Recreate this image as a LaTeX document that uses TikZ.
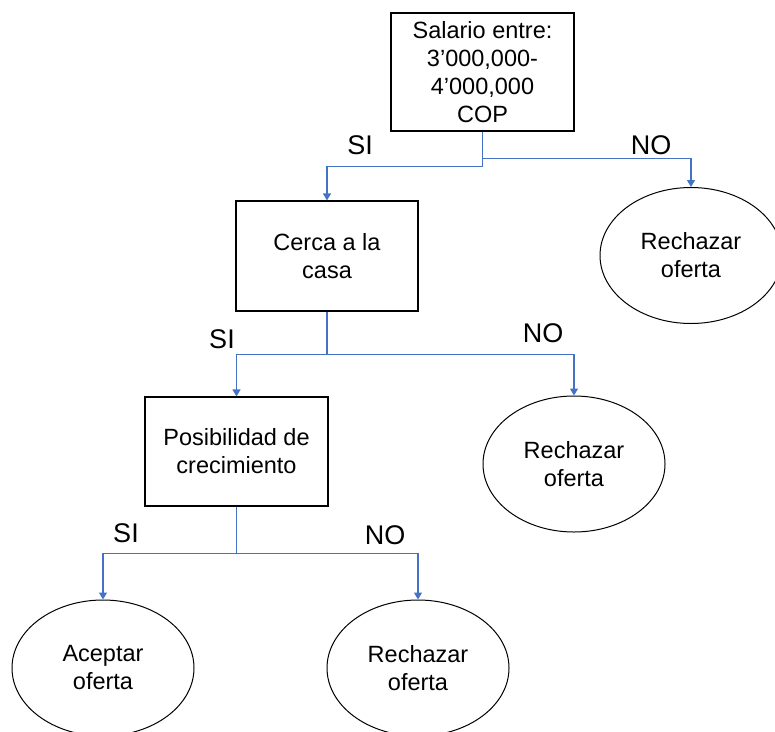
\documentclass[tikz,border=0pt]{standalone}
\usepackage{fontspec}
\setmainfont{Liberation Sans}
\usetikzlibrary{arrows.meta,calc,shapes.geometric}
\definecolor{linkblue}{HTML}{4472C4}
\begin{document}
\begin{tikzpicture}[x=1pt,y=-1pt,
  decision/.style={draw=black,line width=1.2pt,rectangle,inner sep=0pt,align=center,
    font=\fontsize{23.5}{28}\selectfont},
  outcome/.style={draw=black,line width=1pt,ellipse,inner sep=0pt,align=center,
    minimum width=182pt,minimum height=136pt,font=\fontsize{23.5}{28}\selectfont},
  link/.style={draw=linkblue,line width=1.3pt,-{Triangle[width=8pt,length=7pt]}},
  answer/.style={font=\fontsize{27}{30}\selectfont,inner sep=0pt}]
\useasboundingbox (0,0) rectangle (775,731);
\clip (0,0) rectangle (775,731);

% decision boxes
\node[decision,minimum width=183pt,minimum height=118pt] (salario) at (482.5,72)
  {Salario entre:\\3’000,000-\\4’000,000\\COP};
\node[decision,minimum width=182pt,minimum height=110pt] (cerca) at (327,256)
  {Cerca a la\\casa};
\node[decision,minimum width=183pt,minimum height=109pt] (crec) at (236.5,451.5)
  {Posibilidad de\\crecimiento};

% outcomes
\node[outcome] (rech1) at (691,255.5) {Rechazar\\oferta};
\node[outcome] (rech2) at (574,464) {Rechazar\\oferta};
\node[outcome] (acep) at (103,668) {Aceptar\\oferta};
\node[outcome] (rech3) at (418,668) {Rechazar\\oferta};

% branches
\draw[link] (salario.south) -- ++(0,35) -| (cerca.north);
\draw[link] ($(salario.south)+(0,27)$) -| (rech1.north);
\draw[link] (cerca.south) -- ++(0,43) -| (crec.north);
\draw[link] ($(cerca.south)+(0,43)$) -| (rech2.north);
\draw[link] (crec.south) -- ++(0,47) -| (acep.north);
\draw[link] ($(crec.south)+(0,47)$) -| (rech3.north);

% answers
\node[answer] (si1) at (360,145) {SI};
\node[answer] (no1) at (651,145) {NO};
\node[answer] (si2) at (222,339) {SI};
\node[answer] (no2) at (543,333) {NO};
\node[answer] (si3) at (126,533) {SI};
\node[answer] (no3) at (385,535) {NO};
\end{tikzpicture}
\end{document}
